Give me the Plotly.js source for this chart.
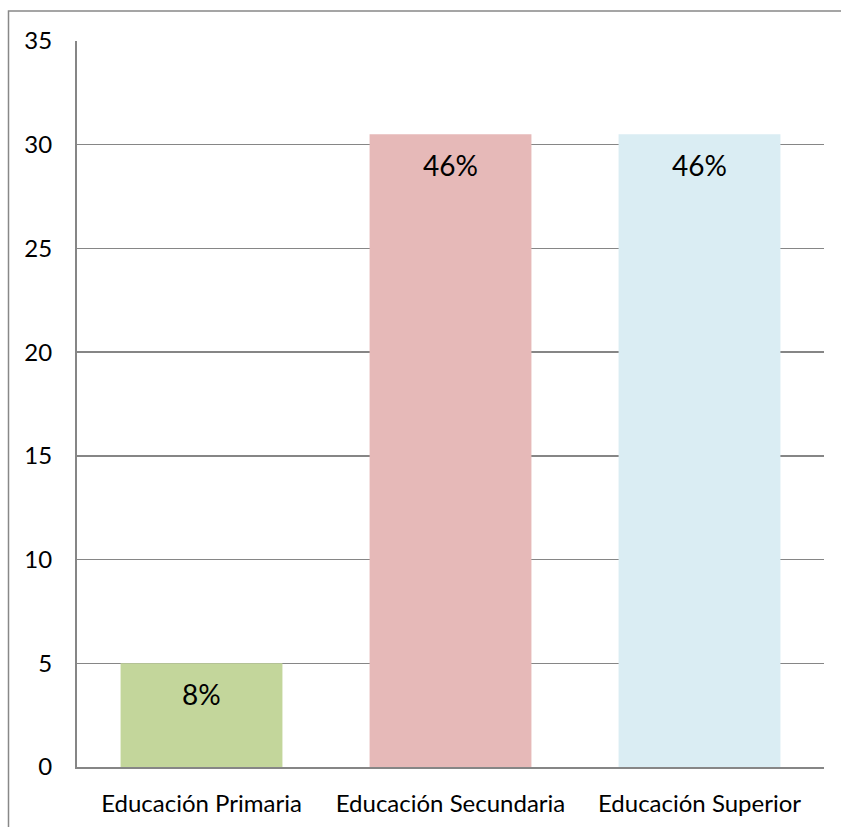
<!DOCTYPE html>
<html>
<head>
<meta charset="utf-8">
<script src="https://cdn.plot.ly/plotly-3.0.1.min.js"></script>
<style>html,body{margin:0;padding:0;background:#fff;}#chart{width:841px;height:827px;}</style>
</head>
<body>
<div id="chart"></div>
<script>
const categories = ["Educación Primaria", "Educación Secundaria", "Educación Superior"];
const values = [5, 30.5, 30.5];
const percentLabels = ["8%", "46%", "46%"];
const barColors = ["#c3d69b", "#e6b9b8", "#daedf3"];
const yTicks = [0, 5, 10, 15, 20, 25, 30, 35];

const font = "Lato, 'Noto Sans', sans-serif";
const trace = {
  type: "bar",
  x: categories,
  y: values,
  marker: {color: barColors, line: {width: 0}},
  width: 0.65,
  hoverinfo: "skip"
};

const annotations = categories.map((c, i) => ({
  x: c, y: values[i], xref: "x", yref: "y",
  text: percentLabels[i], showarrow: false,
  yanchor: "top", yshift: -12,
  font: {family: font, size: 28, color: "#000"}
}));

const W = 747, H = 726;
const layout = {
  width: 841, height: 827,
  margin: {l: 77, r: 17, t: 41, b: 60},
  paper_bgcolor: "#fff", plot_bgcolor: "#fff",
  showlegend: false,
  font: {family: font, color: "#000"},
  xaxis: {
    type: "category",
    showgrid: false, zeroline: false,
    showline: true, linecolor: "#868686", linewidth: 2,
    ticks: "", tickfont: {family: font, size: 24, color: "#000"},
    ticklabelstandoff: 14
  },
  yaxis: {
    range: [0, 35],
    tickvals: yTicks,
    showgrid: true, gridcolor: "#868686", gridwidth: 1.5,
    zeroline: false,
    showline: true, linecolor: "#868686", linewidth: 2,
    ticks: "", tickfont: {family: font, size: 24, color: "#000"},
    ticklabelstandoff: 18
  },
  annotations: annotations,
  shapes: [{
    type: "rect", xref: "paper", yref: "paper",
    x0: (8.5 - 77) / W, x1: 1.2,
    y0: -0.2, y1: (767 - 11) / H,
    line: {color: "#888888", width: 1.5}, fillcolor: "rgba(0,0,0,0)", layer: "below"
  }]
};

Plotly.newPlot("chart", [trace], layout, {displayModeBar: false, staticPlot: true});
</script>
</body>
</html>
